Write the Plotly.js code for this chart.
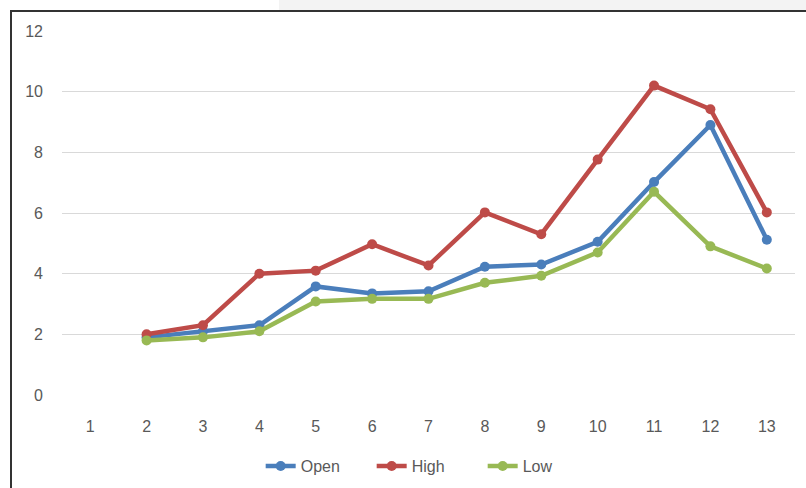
<!DOCTYPE html>
<html>
<head>
<meta charset="utf-8">
<script src="https://cdn.plot.ly/plotly-3.0.1.min.js"></script>
<style>
  html, body { margin: 0; padding: 0; background: #ffffff; width: 806px; height: 488px; overflow: hidden; }
  #topgray { position: absolute; left: 279px; top: 0; width: 527px; height: 10px; background: #f3f3f3; }
  #topline { position: absolute; left: 10px; top: 10px; width: 796px; height: 2px; background: #333333; }
  #leftline { position: absolute; left: 10px; top: 10px; width: 2px; height: 478px; background: #333333; }
  #chart { position: absolute; left: 0; top: 0; width: 806px; height: 488px; }
</style>
</head>
<body>
<div id="chart"></div>
<div id="topgray"></div>
<div id="topline"></div>
<div id="leftline"></div>
<script>
var categories = [1, 2, 3, 4, 5, 6, 7, 8, 9, 10, 11, 12, 13];
var openValues = [null, 1.9, 2.1, 2.3, 3.58, 3.35, 3.42, 4.23, 4.3, 5.05, 7.02, 8.9, 5.12];
var highValues = [null, 2.0, 2.3, 4.0, 4.1, 4.97, 4.27, 6.02, 5.3, 7.76, 10.2, 9.42, 6.02];
var lowValues  = [null, 1.8, 1.9, 2.1, 3.08, 3.17, 3.17, 3.7, 3.93, 4.7, 6.7, 4.9, 4.17];
var seriesNames = ["Open", "High", "Low"];
var seriesColors = ["#4a7ebb", "#be4b48", "#98b954"];
var yTicks = [0, 2, 4, 6, 8, 10, 12];

var allValues = [openValues, highValues, lowValues];
var traces = allValues.map(function (vals, i) {
  return {
    x: categories,
    y: vals,
    type: "scatter",
    mode: "lines+markers",
    name: seriesNames[i],
    line: { color: seriesColors[i], width: 4.5 },
    marker: { color: seriesColors[i], size: 10 },
    connectgaps: false
  };
});

var fontFam = "'Liberation Sans', Arial, sans-serif";
var layout = {
  width: 806,
  height: 488,
  paper_bgcolor: "#ffffff",
  plot_bgcolor: "#ffffff",
  margin: { l: 62, r: 11, t: 31, b: 93, autoexpand: false },
  font: { family: fontFam, size: 16, color: "#595959" },
  showlegend: true,
  legend: {
    orientation: "h",
    xref: "container",
    yref: "container",
    x: 0.53, xanchor: "center",
    y: 0.045, yanchor: "middle",
    entrywidth: 66,
    entrywidthmode: "pixels",
    font: { family: fontFam, size: 16, color: "#595959" },
    itemclick: false
  },
  xaxis: {
    range: [0.5, 13.5],
    tickmode: "array",
    tickvals: categories,
    ticktext: categories.map(String),
    showgrid: false,
    zeroline: false,
    showline: false,
    ticks: "",
    ticklabelstandoff: 20,
    automargin: false,
    fixedrange: true
  },
  yaxis: {
    range: [0, 12],
    tickmode: "array",
    tickvals: yTicks,
    ticktext: yTicks.map(String),
    showgrid: true,
    gridcolor: "#d9d9d9",
    gridwidth: 1,
    zeroline: false,
    showline: false,
    ticks: "",
    ticklabelstandoff: 18,
    automargin: false,
    fixedrange: true
  }
};

Plotly.newPlot("chart", traces, layout, { displayModeBar: false, staticPlot: true });
</script>
</body>
</html>
